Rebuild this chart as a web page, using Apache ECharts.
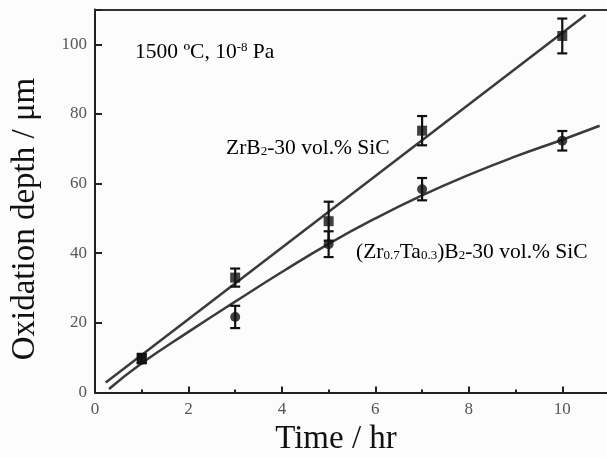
<!DOCTYPE html>
<html>
<head>
<meta charset="utf-8">
<script src="https://cdn.jsdelivr.net/npm/echarts@6/dist/echarts.min.js"></script>
<style>
  html, body { margin: 0; padding: 0; background: #fcfcfc; }
  #chart { width: 607px; height: 457px; }
</style>
</head>
<body>
<div id="chart"></div>
<script>
// measured points (time in hr, depth in um)
var times = [1, 3, 5, 7, 10];
var zrbDepth = [9.8, 33.0, 49.2, 75.2, 102.4];
var zrbErr = [1.3, 2.6, 5.6, 4.2, 5.0];
var ztaDepth = [9.4, 21.7, 42.6, 58.4, 72.3];
var ztaErr = [1.0, 3.2, 3.7, 3.2, 2.8];

// fitted curves
var zrbFitX = [0.23, 10.5];
var zrbFitY = [2.9, 108.4];
var ztaFitX = [0.3, 1, 2, 3, 4, 5, 6, 7, 8, 9, 10, 10.8];
var ztaFitY = [1.0, 8.4, 17.4, 26.1, 34.6, 42.7, 50.0, 56.6, 62.5, 67.8, 72.6, 76.6];

var xTicks = [0, 2, 4, 6, 8, 10];
var yTicks = [0, 20, 40, 60, 80, 100];

function pairs(xs, ys) {
  return xs.map(function (x, i) { return [x, ys[i]]; });
}
function errData(ys, es) {
  return times.map(function (t, i) { return [t, ys[i] - es[i], ys[i] + es[i]]; });
}

function errRender(params, api) {
  var lo = api.coord([api.value(0), api.value(1)]);
  var hi = api.coord([api.value(0), api.value(2)]);
  var w = 5;
  var st = { stroke: '#111', lineWidth: 2.2 };
  return {
    type: 'group',
    children: [
      { type: 'line', shape: { x1: lo[0], y1: lo[1], x2: hi[0], y2: hi[1] }, style: st },
      { type: 'line', shape: { x1: lo[0] - w, y1: lo[1], x2: lo[0] + w, y2: lo[1] }, style: st },
      { type: 'line', shape: { x1: hi[0] - w, y1: hi[1], x2: hi[0] + w, y2: hi[1] }, style: st }
    ]
  };
}

var serif = '"Liberation Serif", "DejaVu Serif", serif';
var chart = echarts.init(document.getElementById('chart'));

var rich = {
  n: { fontFamily: serif, fontSize: 21.5, color: '#222' },
  b: { fontFamily: serif, fontSize: 13, color: '#222', padding: [8, 0, 0, 0] },
  s: { fontFamily: serif, fontSize: 13, color: '#222', padding: [0, 0, 10, 0] }
};

chart.setOption({
  backgroundColor: '#fcfcfc',
  animation: false,
  grid: { left: 95, right: -2, top: 9.5, bottom: 64.5, outerBoundsMode: 'none' },
  xAxis: [{
    type: 'value', min: 0, max: 11, interval: 2,
    axisLine: { lineStyle: { color: '#222', width: 2 } },
    axisTick: { inside: true, length: 6, lineStyle: { color: '#222', width: 2 } },
    minorTick: { show: true, splitNumber: 2, length: 3, lineStyle: { color: '#222', width: 2 } },
    axisLabel: {
      fontFamily: serif, fontSize: 17, color: '#555', margin: 9, showMaxLabel: false,
      formatter: function (v) { return xTicks.indexOf(v) >= 0 ? v : ''; }
    },
    splitLine: { show: false }
  }, {
    type: 'value', position: 'top', min: 0, max: 11,
    axisLine: { show: true, lineStyle: { color: '#333', width: 2 } },
    axisTick: { show: false }, axisLabel: { show: false }, splitLine: { show: false }
  }],
  yAxis: {
    type: 'value', min: 0, max: 110, interval: 20,
    axisLine: { lineStyle: { color: '#222', width: 2 } },
    axisTick: { inside: true, length: 7, lineStyle: { color: '#222', width: 2 } },
    axisLabel: {
      fontFamily: serif, fontSize: 17, color: '#555', margin: 8,
      formatter: function (v) { return yTicks.indexOf(v) >= 0 ? v : ''; }
    },
    splitLine: { show: false }
  },
  graphic: [
    {
      type: 'text', x: 336, y: 439,
      style: {
        text: 'Time / hr', fontFamily: serif, fontSize: 33, fill: '#111',
        textAlign: 'center', textVerticalAlign: 'middle'
      }
    },
    {
      type: 'text', x: 25, y: 219, rotation: Math.PI / 2,
      style: {
        text: 'Oxidation depth / \u03bcm', fontFamily: serif, fontSize: 33, fill: '#111',
        textAlign: 'center', textVerticalAlign: 'middle'
      }
    },
    {
      type: 'text', left: 135, top: 41,
      style: { text: '{n|1500 \u00baC, 10}{s|-8}{n| Pa}', rich: rich }
    },
    {
      type: 'text', left: 226, top: 137,
      style: { text: '{n|ZrB}{b|2}{n|-30 vol.% SiC}', rich: rich }
    },
    {
      type: 'text', left: 356, top: 241,
      style: { text: '{n|(Zr}{b|0.7}{n|Ta}{b|0.3}{n|)B}{b|2}{n|-30 vol.% SiC}', rich: rich }
    }
  ],
  series: [
    {
      type: 'line', data: pairs(zrbFitX, zrbFitY), showSymbol: false, symbol: 'none',
      lineStyle: { color: '#3a3a3a', width: 2.5 }, z: 2
    },
    {
      type: 'line', data: pairs(ztaFitX, ztaFitY), smooth: true, showSymbol: false, symbol: 'none',
      lineStyle: { color: '#3a3a3a', width: 2.5 }, z: 2
    },
    { type: 'custom', renderItem: errRender, data: errData(zrbDepth, zrbErr), z: 3 },
    { type: 'custom', renderItem: errRender, data: errData(ztaDepth, ztaErr), z: 3 },
    {
      type: 'scatter', data: pairs(times, zrbDepth), symbol: 'rect', symbolSize: 10,
      itemStyle: { color: '#111' }, z: 4
    },
    {
      type: 'scatter', data: pairs(times, ztaDepth), symbol: 'circle', symbolSize: 10,
      itemStyle: { color: '#111' }, z: 4
    }
  ]
});
</script>
</body>
</html>
